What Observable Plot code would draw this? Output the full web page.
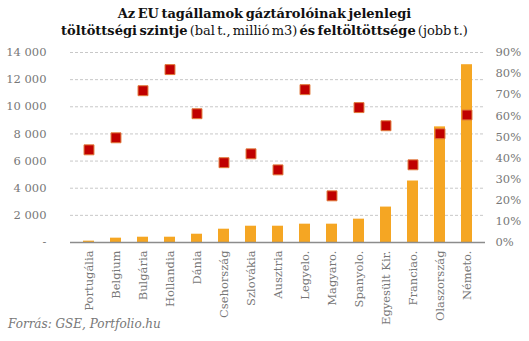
<!DOCTYPE html>
<html><head><meta charset="utf-8">
<script src="https://cdn.jsdelivr.net/npm/d3@7"></script>
<script src="https://cdn.jsdelivr.net/npm/@observablehq/plot@0.6"></script>
<style>
body{margin:0;background:#fff;width:529px;height:341px;overflow:hidden;position:relative;font-family:"DejaVu Serif",serif;}
#title{height:44px;box-sizing:border-box;padding-top:5px;text-align:center;font-size:13px;line-height:17px;color:#111;word-spacing:-2px;}
#title b{font-weight:bold;}
#cap{position:absolute;left:8px;top:317px;font-style:italic;font-size:12px;color:#777;}
</style></head><body>
<div id="title"><b>Az EU tagállamok gáztárolóinak jelenlegi</b><br><b>töltöttségi szintje</b> (bal t., millió m3) <b>és feltöltöttsége</b> (jobb t.)</div>
<div id="chart"></div>
<div id="cap">Forrás: GSE, Portfolio.hu</div>
<script>
const countries = ["Portugália","Belgium","Bulgária","Hollandia","Dánia","Csehország","Szlovákia","Ausztria","Legyelo.","Magyaro.","Spanyolo.","Egyesült Kir.","Franciao.","Olaszország","Németo."];
const storage = [100,320,390,390,610,980,1200,1200,1350,1350,1720,2610,4530,8520,13100];
const fill = [43.9,49.6,71.9,81.9,61.0,37.8,42.0,34.4,72.4,22.1,63.9,55.3,36.8,51.5,60.4];
const leftTicks = [0,2000,4000,6000,8000,10000,12000,14000];
const rightTicks = [0,10,20,30,40,50,60,70,80,90];
const leftMax = 14000, rightMax = 90;

const data = countries.map((c,i)=>({c, v: storage[i], p: fill[i], py: fill[i]/rightMax*leftMax}));
const fmt = d => d === 0 ? "-" : d3.format(",")(d).replace(/,/g, " ");

const chart = Plot.plot({
  width: 529, height: 297,
  marginTop: 8, marginBottom: 99, marginLeft: 70, marginRight: 44,
  style: {fontFamily: "'DejaVu Serif', serif", fontSize: "11.5px", color: "#777", background: "#fff"},
  x: {domain: countries, paddingInner: 0.6, paddingOuter: 0.3, axis: null},
  y: {domain: [0, leftMax], axis: null},
  marks: [
    Plot.ruleY(leftTicks.filter(d=>d>0), {stroke: "#c8c8c8", strokeDasharray: "3,2", strokeWidth: 1}),
    Plot.barY(data, {x: "c", y: "v", fill: "#F5A623"}),
    Plot.ruleY([0], {stroke: "#8c8c8c", strokeWidth: 1.3}),
    Plot.dot(data, {x: "c", y: "py", symbol: "square", r: 5.6, fill: "#C00000", stroke: "#E0793A", strokeWidth: 1}),
    Plot.axisY(leftTicks, {anchor: "left", tickSize: 0, tickPadding: 24, tickFormat: fmt, fill: "#777", fontSize: 11.5}),
    Plot.axisY(rightTicks.map(p => p/rightMax*leftMax), {anchor: "right", tickSize: 0, tickPadding: 10, tickFormat: d => Math.round(d/leftMax*rightMax) + "%", fill: "#777", fontSize: 11.5}),
    Plot.axisX({tickRotate: -90, tickSize: 0, tickPadding: 8, fill: "#777", fontSize: 11.5, label: null})
  ]
});
document.getElementById("chart").appendChild(chart);
</script>
</body></html>
